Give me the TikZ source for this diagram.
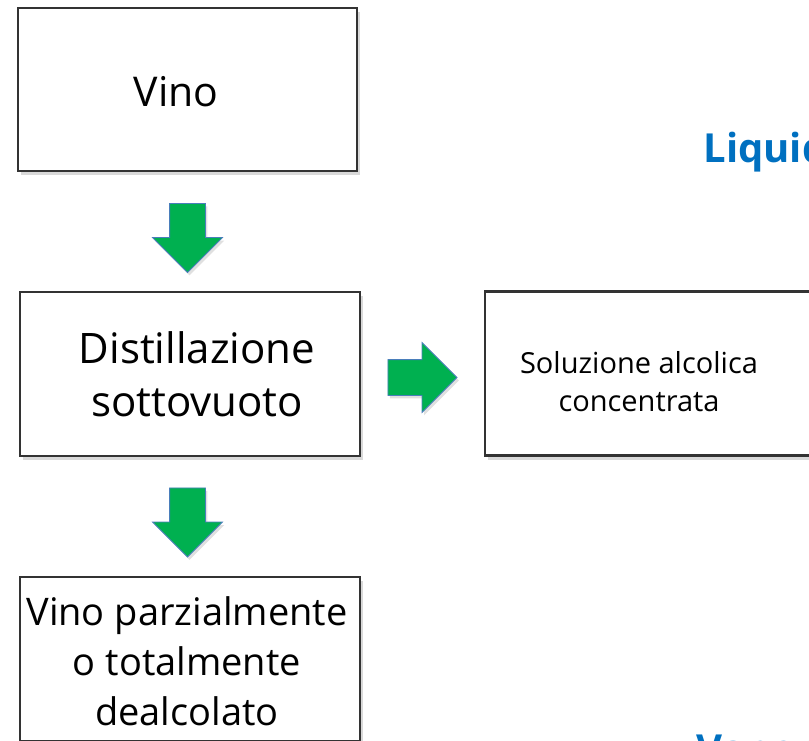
\documentclass[tikz,border=0pt]{standalone}
\usepackage{fontspec}
\setmainfont{Open Sans}
\usepackage{xcolor}
\usetikzlibrary{positioning,shapes.arrows,shadows}

\definecolor{stepgreen}{HTML}{00B050}
\definecolor{stepblue}{HTML}{0070C0}
\definecolor{arrowedge}{HTML}{4A7EBB}

\begin{document}
\begin{tikzpicture}[x=1pt, y=-1pt,
    box/.style={draw=black!80, line width=2.4pt, fill=white,
        minimum width=340pt, minimum height=164pt, inner sep=0pt,
        drop shadow={shadow xshift=3pt, shadow yshift=-4pt, opacity=0.25, fill=black!60}},
    caption/.style={align=center, inner sep=0pt},
    flow/.style={single arrow, fill=stepgreen, draw=arrowedge, line width=0.8pt,
        inner xsep=0pt, inner ysep=17.5pt, minimum height=69pt,
        single arrow head extend=17pt,
        drop shadow={shadow xshift=2pt, shadow yshift=-3pt, opacity=0.2, fill=black!60}},
    phase/.style={text=stepblue, font=\bfseries\fontsize{40}{48}\selectfont, anchor=base west}]

    \useasboundingbox (0,0) rectangle (809,741);
    \clip (0,0) rectangle (809,741);

    % boxes
    \node[box, minimum width=339pt, minimum height=163pt] (wine) at (187.5, 89.5) {};
    \node[box] (still) at (190, 374) {};
    \node[box] (spirit) at (655, 373.5) {};
    \node[box] (dealc) at (190, 659) {};

    % texts
    \node[caption, font=\fontsize{41}{48}\selectfont] (wine-txt) at (176, 92) {Vino};
    \node[caption, font=\fontsize{42}{53}\selectfont] (still-txt) at (197, 374)
        {Distillazione\\sottovuoto};
    \node[caption, font=\fontsize{29}{38}\selectfont] (spirit-txt) at (639, 382)
        {Soluzione alcolica\\concentrata};
    \node[caption, font=\fontsize{38}{50}\selectfont] (dealc-txt) at (187, 661)
        {Vino parzialmente\\o totalmente\\dealcolato};

    % arrows
    \node[flow, rotate=-90] (down1) at (187.5, 229) {};
    \node[flow] (right1) at (413.5, 377.5) {};
    \node[flow, rotate=-90] (down2) at (187.5, 513.5) {};

    \node[phase] (liquid) at (700, 163) {Liquido};
    \node[phase] (vapour) at (693, 763) {Vapore};

\end{tikzpicture}
\end{document}
